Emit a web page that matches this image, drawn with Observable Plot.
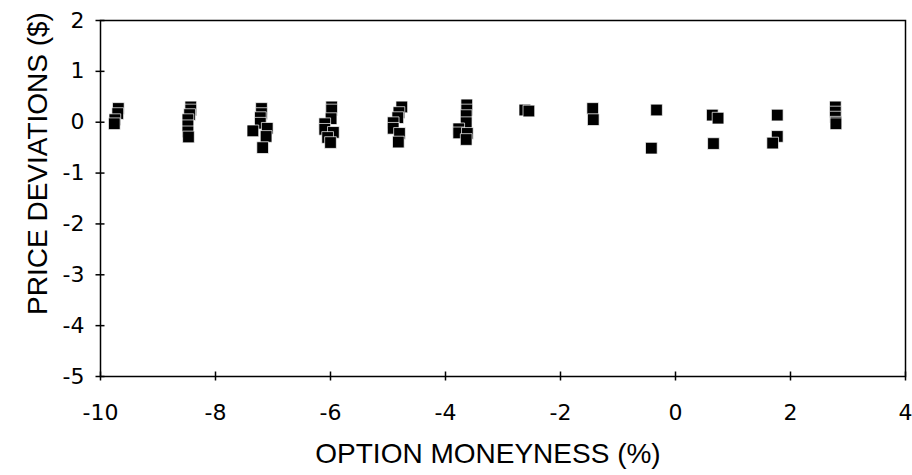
<!DOCTYPE html>
<html>
<head>
<meta charset="utf-8">
<script src="https://cdn.jsdelivr.net/npm/d3@7"></script>
<script src="https://cdn.jsdelivr.net/npm/@observablehq/plot@0.6"></script>
<style>
  html, body { margin: 0; padding: 0; background: #fff; }
  #chart svg { display: block; }
  #chart g[aria-label$="tick label"] { font-size: 22px; font-family: 'DejaVu Sans', sans-serif; }
</style>
</head>
<body>
<div id="chart"></div>
<script>
// Option moneyness (%) and the matching price deviation ($) of each quote.
const moneyness = [
  -9.69, -9.70, -9.75, -9.76,
  -8.43, -8.43, -8.45, -8.48, -8.48, -8.48, -8.47,
  -7.20, -7.20, -7.22, -7.22, -7.35, -7.10, -7.12, -7.18,
  -5.98, -5.98, -5.99, -6.10, -6.10, -5.95, -6.05, -6.00,
  -4.76, -4.81, -4.83, -4.91, -4.91, -4.80, -4.82,
  -3.63, -3.63, -3.64, -3.64, -3.77, -3.77, -3.62, -3.64,
  -2.62, -2.55,
  -1.44, -1.43,
  -0.33, -0.42,
  0.64, 0.74, 0.66,
  1.77, 1.77, 1.69,
  2.78, 2.78, 2.78, 2.79, 2.79
];
const deviation = [
  0.27, 0.17, 0.05, -0.03,
  0.30, 0.24, 0.15, 0.05, -0.07, -0.19, -0.29,
  0.27, 0.17, 0.09, -0.02, -0.17, -0.12, -0.28, -0.50,
  0.30, 0.24, 0.07, -0.03, -0.14, -0.20, -0.30, -0.40,
  0.30, 0.19, 0.09, -0.01, -0.12, -0.22, -0.39,
  0.34, 0.24, 0.13, -0.01, -0.13, -0.21, -0.22, -0.34,
  0.24, 0.22,
  0.27, 0.05,
  0.24, -0.51,
  0.14, 0.08, -0.42,
  0.14, -0.28, -0.41,
  0.30, 0.20, 0.10, 0.00, -0.03
];
const xTicks = [-10, -8, -6, -4, -2, 0, 2, 4];
const yTicks = [2, 1, 0, -1, -2, -3, -4, -5];
const xTitle = "OPTION MONEYNESS (%)";
const yTitle = "PRICE DEVIATIONS ($)";

const quotes = moneyness.map((m, i) => ({m, d: deviation[i]}));

const font = "'Liberation Sans', Arial, sans-serif";
const plain = d => String(d).replace("−", "-");

const chart = Plot.plot({
  width: 912,
  height: 475,
  marginLeft: 100,
  marginRight: 7,
  marginTop: 20,
  marginBottom: 99,
  style: {fontFamily: font, background: "#fff", color: "#000"},
  x: {domain: [-10, 4]},
  y: {domain: [-5, 2]},
  marks: [
    Plot.frame({stroke: "#000", strokeWidth: 1.5}),
    // crossing tick marks on both axes
    Plot.axisX(xTicks, {tickSize: 9, dy: -4.5, text: null, strokeWidth: 1.5, label: null}),
    Plot.axisY(yTicks, {tickSize: 9, dx: 4.5, text: null, strokeWidth: 1.5, label: null}),
    // tick labels
    Plot.axisX(xTicks, {tickSize: 0, tickPadding: 28, label: null, tickFormat: plain}),
    Plot.axisY(yTicks, {tickSize: 0, tickPadding: 16, label: null, tickFormat: plain}),
    // axis titles
    Plot.text([xTitle], {frameAnchor: "bottom", dy: 86, dx: -15, fontSize: 28, text: d => d}),
    Plot.text([yTitle], {frameAnchor: "left", textAnchor: "middle", rotate: -90, dx: -62, dy: -35, fontSize: 28, text: d => d}),
    // quotes, drawn as filled squares with a thin white edge
    Plot.dot(quotes, {x: "m", y: "d", symbol: "square", r: 6.6, fill: "#000", stroke: "#fff", strokeWidth: 0.7})
  ]
});

document.getElementById("chart").appendChild(chart);
</script>
</body>
</html>
